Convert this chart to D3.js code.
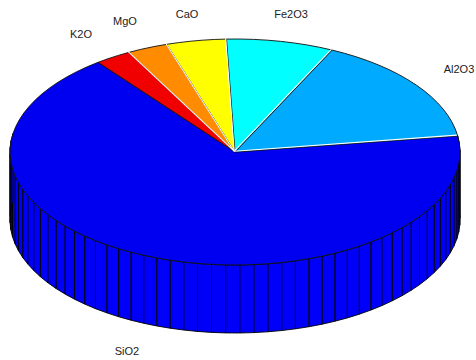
<!DOCTYPE html>
<html>
<head>
<meta charset="utf-8">
<script src="https://cdn.jsdelivr.net/npm/d3@7"></script>
<style>
html, body { margin: 0; padding: 0; background: #fff; }
svg { display: block; }
text { font-family: "Liberation Sans", Arial, sans-serif; font-size: 11px; fill: #222; }
</style>
</head>
<body>
<div id="chart"></div>
<script>
var width = 476;
var height = 360;

// oxide shares in percent (clockwise from SiO2)
var categories = ["SiO2", "K2O", "MgO", "CaO", "Fe2O3", "Al2O3"];
var shares = [66.8, 2.6, 2.9, 4.3, 7.7, 15.6];
var sliceColors = ["#0000f0", "#f00000", "#ff8c00", "#ffff00", "#00ffff", "#00aaff"];
var wallColor = "#0000fa";
var labelX = [127, 81, 125, 187, 291, 459];
var labelY = [355, 38, 25, 18, 18, 73];

var startDeg = 8.2;   // where SiO2 begins, measured on the ellipse

var svg = d3.select("#chart").append("svg")
    .attr("width", width)
    .attr("height", height);

// unit circle -> picture
var x = d3.scaleLinear().domain([-1, 1]).range([10, 460]);
var y = d3.scaleLinear().domain([-1, 1]).range([265, 39]);
var wallDrop = 68;

var pie = d3.pie()
    .sort(null)
    .startAngle(0)
    .endAngle(2 * Math.PI)
    .value(function (d) { return d; });

var arcs = pie(shares);

function angleAt(a) {
    return (startDeg * Math.PI / 180) - a;
}

function steps(d) {
    // one facet per percent, as the original does
    var n = Math.ceil((d.endAngle - d.startAngle) / (2 * Math.PI) * 100);
    return d3.range(n + 1).map(function (i) {
        return angleAt(d.startAngle + (d.endAngle - d.startAngle) * i / n);
    });
}

var line = d3.line()
    .x(function (p) { return p[0]; })
    .y(function (p) { return p[1]; });

function rim(t, drop) {
    return [x(Math.cos(t)), y(Math.sin(t)) + drop];
}

// walls first, only the part facing us is visible
var wallGroup = svg.append("g");
arcs.forEach(function (d, i) {
    var ts = steps(d);
    for (var k = 0; k < ts.length - 1; k++) {
        var t0 = ts[k], t1 = ts[k + 1];
        if (Math.sin(t0) > 0.14 && Math.sin(t1) > 0.14) continue;
        wallGroup.append("path")
            .attr("d", line([rim(t0, 0), rim(t1, 0), rim(t1, wallDrop), rim(t0, wallDrop)]) + "Z")
            .attr("fill", wallColor)
            .attr("stroke", "#000")
            .attr("stroke-width", 0.9);
    }
});

// top faces
var topGroup = svg.append("g");
arcs.forEach(function (d, i) {
    var pts = steps(d).map(function (t) { return rim(t, 0); });
    pts.push([x(0), y(0)]);
    topGroup.append("path")
        .attr("d", line(pts) + "Z")
        .attr("fill", sliceColors[i])
        .attr("stroke", "#111")
        .attr("stroke-width", 0.9)
        .attr("stroke-linejoin", "round");
});

// light edge beside each radial line between the coloured slices
var edgeGroup = svg.append("g");
arcs.slice(1).forEach(function (d) {
    edgeGroup.append("path")
        .attr("d", line([[x(0), y(0)], rim(angleAt(d.endAngle), 0)]))
        .attr("transform", "translate(-0.8,-0.8)")
        .attr("stroke", "#fff")
        .attr("stroke-width", 1.1)
        .attr("fill", "none");
});

svg.selectAll("text.label")
    .data(categories)
    .enter()
    .append("text")
    .attr("class", "label")
    .attr("x", function (d, i) { return labelX[i]; })
    .attr("y", function (d, i) { return labelY[i]; })
    .attr("text-anchor", "middle")
    .text(function (d) { return d; });
</script>
</body>
</html>
